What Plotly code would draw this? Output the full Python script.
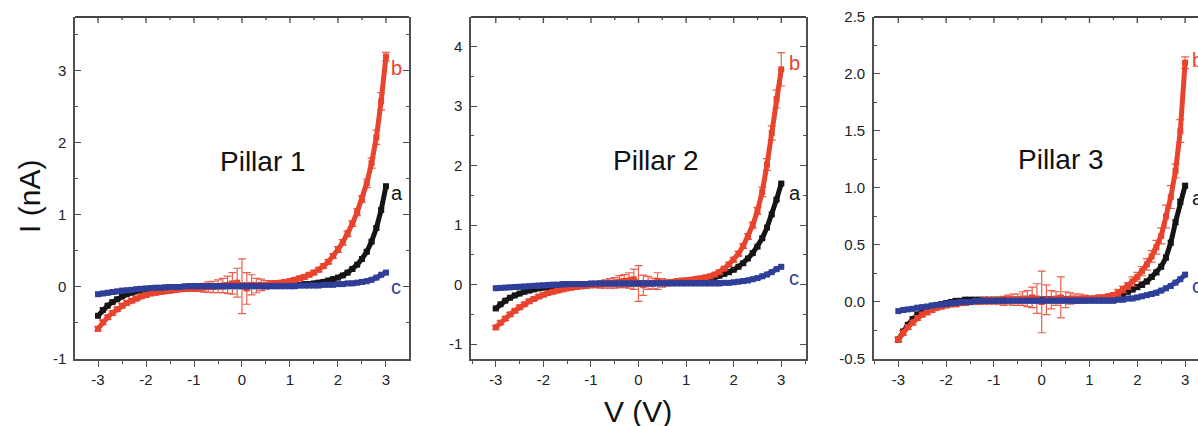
import plotly.graph_objects as go

# Bias sweep (V)
V = [-3.0, -2.9, -2.8, -2.7, -2.6, -2.5, -2.4, -2.3, -2.2, -2.1,
     -2.0, -1.9, -1.8, -1.7, -1.6, -1.5, -1.4, -1.3, -1.2, -1.1,
     -1.0, -0.9, -0.8, -0.7, -0.6, -0.5, -0.4, -0.3, -0.2, -0.1,
     0.0, 0.1, 0.2, 0.3, 0.4, 0.5, 0.6, 0.7, 0.8, 0.9,
     1.0, 1.1, 1.2, 1.3, 1.4, 1.5, 1.6, 1.7, 1.8, 1.9,
     2.0, 2.1, 2.2, 2.3, 2.4, 2.5, 2.6, 2.7, 2.8, 2.9, 3.0]

# ---- Pillar 1 currents (nA) ----
p1_a = [-0.40, -0.32, -0.26, -0.21, -0.17, -0.13, -0.10, -0.08, -0.06, -0.05,
        -0.04, -0.03, -0.02, -0.02, -0.01, -0.01, 0.00, 0.00, 0.00, 0.01,
        0.01, 0.01, 0.01, 0.01, 0.01, 0.01, 0.01, 0.02, 0.02, 0.02,
        0.02, 0.02, 0.02, 0.02, 0.02, 0.02, 0.02, 0.02, 0.02, 0.02,
        0.03, 0.03, 0.03, 0.04, 0.04, 0.05, 0.06, 0.07, 0.09, 0.11,
        0.13, 0.16, 0.20, 0.25, 0.31, 0.39, 0.49, 0.63, 0.82, 1.07, 1.40]
p1_b = [-0.58, -0.49, -0.42, -0.36, -0.31, -0.26, -0.22, -0.19, -0.16, -0.13,
        -0.11, -0.09, -0.08, -0.07, -0.06, -0.05, -0.04, -0.03, -0.03, -0.02,
        -0.02, -0.01, -0.01, 0.00, 0.00, 0.01, 0.02, 0.03, 0.05, 0.06,
        0.01, -0.02, 0.03, 0.02, 0.03, 0.03, 0.04, 0.05, 0.06, 0.07,
        0.08, 0.10, 0.12, 0.14, 0.17, 0.20, 0.24, 0.29, 0.35, 0.43,
        0.52, 0.62, 0.74, 0.88, 1.04, 1.22, 1.44, 1.72, 2.08, 2.58, 3.20]
p1_b_err = [0.03, 0.03, 0.03, 0.03, 0.03, 0.03, 0.03, 0.03, 0.03, 0.03,
            0.03, 0.03, 0.03, 0.03, 0.03, 0.03, 0.03, 0.03, 0.03, 0.04,
            0.04, 0.05, 0.06, 0.07, 0.08, 0.09, 0.10, 0.12, 0.15, 0.20,
            0.38, 0.22, 0.14, 0.10, 0.08, 0.06, 0.05, 0.04, 0.03, 0.03,
            0.03, 0.03, 0.03, 0.03, 0.03, 0.03, 0.03, 0.03, 0.03, 0.03,
            0.04, 0.04, 0.04, 0.04, 0.05, 0.05, 0.06, 0.07, 0.10, 0.12, 0.06]
p1_c = [-0.10, -0.09, -0.08, -0.07, -0.06, -0.05, -0.045, -0.04, -0.03, -0.025,
        -0.02, -0.015, -0.01, -0.01, -0.005, 0.00, 0.00, 0.00, 0.01, 0.01,
        0.01, 0.01, 0.01, 0.01, 0.01, 0.01, 0.01, 0.01, 0.01, 0.01,
        0.01, 0.01, 0.01, 0.01, 0.01, 0.01, 0.01, 0.01, 0.01, 0.01,
        0.01, 0.01, 0.02, 0.02, 0.02, 0.02, 0.02, 0.03, 0.03, 0.03,
        0.04, 0.04, 0.05, 0.05, 0.06, 0.07, 0.08, 0.10, 0.13, 0.17, 0.20]

# ---- Pillar 2 currents (nA) ----
p2_a = [-0.40, -0.33, -0.27, -0.22, -0.18, -0.15, -0.12, -0.10, -0.08, -0.06,
        -0.05, -0.04, -0.03, -0.02, -0.01, 0.00, 0.00, 0.01, 0.01, 0.01,
        0.01, 0.01, 0.02, 0.02, 0.02, 0.02, 0.02, 0.02, 0.02, 0.02,
        0.02, 0.02, 0.02, 0.02, 0.03, 0.03, 0.03, 0.04, 0.04, 0.05,
        0.06, 0.07, 0.08, 0.09, 0.10, 0.11, 0.13, 0.15, 0.18, 0.21,
        0.25, 0.30, 0.36, 0.44, 0.53, 0.64, 0.78, 0.96, 1.18, 1.43, 1.70]
p2_b = [-0.72, -0.64, -0.57, -0.50, -0.44, -0.38, -0.33, -0.28, -0.24, -0.20,
        -0.17, -0.14, -0.12, -0.10, -0.08, -0.06, -0.05, -0.04, -0.03, -0.02,
        -0.01, 0.00, 0.00, 0.01, 0.02, 0.03, 0.05, 0.06, 0.07, 0.09,
        0.02, -0.01, 0.03, 0.02, 0.06, 0.03, 0.03, 0.04, 0.06, 0.07,
        0.07, 0.08, 0.09, 0.10, 0.12, 0.14, 0.17, 0.21, 0.27, 0.34,
        0.42, 0.52, 0.65, 0.81, 1.00, 1.24, 1.56, 2.02, 2.55, 3.12, 3.62]
p2_b_err = [0.03, 0.03, 0.03, 0.03, 0.03, 0.03, 0.03, 0.03, 0.03, 0.03,
            0.03, 0.03, 0.03, 0.03, 0.03, 0.03, 0.03, 0.03, 0.03, 0.04,
            0.04, 0.05, 0.06, 0.07, 0.08, 0.09, 0.10, 0.11, 0.13, 0.17,
            0.30, 0.17, 0.11, 0.09, 0.14, 0.07, 0.05, 0.04, 0.03, 0.03,
            0.03, 0.03, 0.03, 0.03, 0.03, 0.03, 0.03, 0.03, 0.03, 0.03,
            0.04, 0.04, 0.04, 0.05, 0.05, 0.06, 0.08, 0.10, 0.12, 0.15, 0.28]
p2_c = [-0.06, -0.055, -0.05, -0.045, -0.04, -0.035, -0.03, -0.025, -0.02, -0.015,
        -0.01, -0.005, 0.00, 0.00, 0.01, 0.01, 0.01, 0.01, 0.01, 0.01,
        0.02, 0.02, 0.02, 0.02, 0.02, 0.02, 0.02, 0.02, 0.02, 0.02,
        0.02, 0.02, 0.02, 0.02, 0.02, 0.02, 0.02, 0.02, 0.02, 0.02,
        0.02, 0.02, 0.02, 0.02, 0.02, 0.02, 0.02, 0.02, 0.03, 0.03,
        0.04, 0.05, 0.06, 0.07, 0.09, 0.11, 0.14, 0.17, 0.21, 0.26, 0.30]

# ---- Pillar 3 currents (nA) ----
p3_a = [-0.33, -0.26, -0.20, -0.15, -0.11, -0.08, -0.06, -0.04, -0.03, -0.02,
        -0.01, 0.00, 0.01, 0.01, 0.02, 0.02, 0.02, 0.02, 0.02, 0.02,
        0.02, 0.02, 0.02, 0.02, 0.02, 0.02, 0.02, 0.02, 0.02, 0.02,
        0.02, 0.02, 0.02, 0.02, 0.02, 0.02, 0.02, 0.02, 0.02, 0.02,
        0.02, 0.02, 0.03, 0.03, 0.04, 0.05, 0.06, 0.07, 0.09, 0.11,
        0.13, 0.15, 0.18, 0.22, 0.26, 0.31, 0.39, 0.52, 0.70, 0.88, 1.02]
p3_b = [-0.33, -0.27, -0.22, -0.18, -0.14, -0.11, -0.09, -0.07, -0.05, -0.04,
        -0.03, -0.02, -0.02, -0.01, -0.01, 0.00, 0.00, 0.00, 0.01, 0.01,
        0.01, 0.01, 0.01, 0.02, 0.02, 0.02, 0.03, 0.03, 0.04, 0.03,
        0.00, 0.02, 0.02, 0.03, 0.04, 0.02, 0.03, 0.03, 0.03, 0.03,
        0.03, 0.03, 0.04, 0.04, 0.05, 0.06, 0.08, 0.11, 0.14, 0.18,
        0.22, 0.27, 0.33, 0.40, 0.48, 0.58, 0.75, 0.92, 1.15, 1.50, 2.10]
p3_b_err = [0.02, 0.02, 0.02, 0.02, 0.02, 0.02, 0.02, 0.02, 0.02, 0.02,
            0.02, 0.02, 0.02, 0.02, 0.02, 0.02, 0.02, 0.02, 0.03, 0.03,
            0.03, 0.03, 0.04, 0.04, 0.05, 0.05, 0.06, 0.07, 0.09, 0.13,
            0.27, 0.13, 0.08, 0.06, 0.18, 0.07, 0.05, 0.04, 0.04, 0.03,
            0.02, 0.02, 0.02, 0.02, 0.02, 0.02, 0.03, 0.03, 0.03, 0.04,
            0.04, 0.04, 0.05, 0.05, 0.06, 0.07, 0.10, 0.10, 0.06, 0.10, 0.05]
p3_c = [-0.08, -0.07, -0.065, -0.06, -0.05, -0.045, -0.04, -0.03, -0.025, -0.02,
        -0.015, -0.01, -0.005, 0.00, 0.00, 0.00, 0.01, 0.01, 0.01, 0.01,
        0.01, 0.01, 0.01, 0.01, 0.01, 0.01, 0.01, 0.01, 0.01, 0.01,
        0.01, 0.01, 0.01, 0.01, 0.01, 0.01, 0.01, 0.01, 0.01, 0.01,
        0.01, 0.01, 0.01, 0.01, 0.01, 0.01, 0.02, 0.02, 0.03, 0.03,
        0.04, 0.05, 0.06, 0.07, 0.08, 0.10, 0.12, 0.14, 0.17, 0.20, 0.24]

# Tick positions and labels
x_ticks = [-3, -2, -1, 0, 1, 2, 3]
x_minor_ticks = [-2.5, -1.5, -0.5, 0.5, 1.5, 2.5]
x_tick_labels = ["-3", "-2", "-1", "0", "1", "2", "3"]
p1_y_ticks = [-1, 0, 1, 2, 3]
p1_y_tick_labels = ["-1", "0", "1", "2", "3"]
p2_y_ticks = [-1, 0, 1, 2, 3, 4]
p2_y_tick_labels = ["-1", "0", "1", "2", "3", "4"]
p3_y_ticks = [-0.5, 0.0, 0.5, 1.0, 1.5, 2.0, 2.5]
p3_y_tick_labels = ["-0.5", "0.0", "0.5", "1.0", "1.5", "2.0", "2.5"]

panel_titles = ["Pillar 1", "Pillar 2", "Pillar 3"]
curve_labels = ["a", "b", "c"]

BLACK = "#151515"
RED = "#e8432d"
BLUE = "#2f3e98"
AXIS = "#505050"
TICKTXT = "#222222"
FONT = "Liberation Sans, Arial, sans-serif"

panels = [
    dict(a=p1_a, b=p1_b, be=p1_b_err, c=p1_c,
         xdom=[0.0626, 0.3414], xr=[-3.48, 3.48], yr=[-1.0, 3.75],
         yt=p1_y_ticks, ytl=p1_y_tick_labels, ymin=0.5, title_xy=(0.44, 1.74),
         lab_y=dict(a=1.30, b=3.04, c=0.0), lab_x=3.06, mirror_y=True),
    dict(a=p2_a, b=p2_b, be=p2_b_err, c=p2_c,
         xdom=[0.3932, 0.6728], xr=[-3.52, 3.52], yr=[-1.25, 4.5],
         yt=p2_y_ticks, ytl=p2_y_tick_labels, ymin=0.5, title_xy=(0.36, 2.09),
         lab_y=dict(a=1.54, b=3.72, c=0.12), lab_x=3.12, mirror_y=True),
    dict(a=p3_a, b=p3_b, be=p3_b_err, c=p3_c,
         xdom=[0.7295, 1.0], xr=[-3.51, 3.27], yr=[-0.5, 2.5],
         yt=p3_y_ticks, ytl=p3_y_tick_labels, ymin=0.25, title_xy=(0.41, 1.25),
         lab_y=dict(a=0.91, b=2.12, c=0.14), lab_x=3.11, mirror_y=False),
]

FIG_H = 426
YDOM = [0.1573, 0.9601]
TOP = YDOM[1]
MAJOR_LEN = 6 / FIG_H
MINOR_LEN = 3 / FIG_H

fig = go.Figure()
annotations = []
shapes = []


def to_paper_x(v, dom, rng):
    """Position of axis value v on the paper, for the top frame ticks."""
    return dom[0] + (v - rng[0]) / (rng[1] - rng[0]) * (dom[1] - dom[0])


for i, p in enumerate(panels):
    n = "" if i == 0 else str(i + 1)
    xa, ya = "x" + n, "y" + n

    fig.add_trace(go.Scatter(
        x=V, y=p["a"], xaxis=xa, yaxis=ya, mode="lines+markers",
        line=dict(color=BLACK, width=5), marker=dict(color=BLACK, size=6, symbol="square"),
        error_y=dict(type="constant", value=0.02, color=BLACK, thickness=1, width=3),
        showlegend=False, cliponaxis=False))
    fig.add_trace(go.Scatter(
        x=V, y=p["b"], xaxis=xa, yaxis=ya, mode="lines+markers",
        line=dict(color=RED, width=5), marker=dict(color=RED, size=6, symbol="square"),
        error_y=dict(type="data", array=p["be"], color="rgba(232,67,45,0.85)",
                     thickness=1.2, width=4),
        showlegend=False, cliponaxis=False))
    fig.add_trace(go.Scatter(
        x=V, y=p["c"], xaxis=xa, yaxis=ya, mode="lines+markers",
        line=dict(color=BLUE, width=5), marker=dict(color=BLUE, size=6, symbol="square"),
        showlegend=False, cliponaxis=False))

    fig.update_layout(**{
        "xaxis" + n: dict(domain=p["xdom"], range=p["xr"], anchor=ya, automargin=False,
                          tickmode="array", tickvals=x_ticks, ticktext=x_tick_labels,
                          showgrid=False, zeroline=False,
                          showline=True, mirror=False,
                          linecolor=AXIS, linewidth=1.5,
                          ticks="outside", ticklen=6, tickcolor=AXIS, tickwidth=1.2,
                          minor=dict(ticks="outside", tickmode="linear", tick0=0,
                                     dtick=0.5, ticklen=3, tickcolor=AXIS, tickwidth=1.2),
                          tickfont=dict(family=FONT, size=15, color=TICKTXT)),
        "yaxis" + n: dict(domain=YDOM, range=p["yr"], automargin=False,
                          tickmode="array", tickvals=p["yt"], ticktext=p["ytl"],
                          anchor=xa, showgrid=False, zeroline=False,
                          showline=True, mirror="allticks" if p["mirror_y"] else False,
                          linecolor=AXIS, linewidth=1.5,
                          ticks="inside", ticklen=6, tickcolor=AXIS, tickwidth=1.2,
                          minor=dict(ticks="inside", tickmode="linear", tick0=0,
                                     dtick=p["ymin"], ticklen=3,
                                     tickcolor=AXIS, tickwidth=1.2),
                          ticklabelstandoff=4,
                          tickfont=dict(family=FONT, size=15, color=TICKTXT)),
    })

    # top edge of the frame (paper coordinates), ticks pointing down into the frame
    shapes.append(dict(type="line", xref="paper", yref="paper", layer="above",
                       x0=p["xdom"][0], x1=p["xdom"][1], y0=TOP, y1=TOP,
                       line=dict(color="#444444", width=2.2)))
    for ticks, length in ((x_ticks, MAJOR_LEN), (x_minor_ticks, MINOR_LEN)):
        for t in ticks:
            xp = to_paper_x(t, p["xdom"], p["xr"])
            shapes.append(dict(type="line", xref="paper", yref="paper", layer="above",
                               x0=xp, x1=xp, y0=TOP, y1=TOP - length,
                               line=dict(color=AXIS, width=1.4)))

    tx, ty = p["title_xy"]
    annotations.append(dict(x=tx, y=ty, xref=xa, yref=ya, text=panel_titles[i],
                            showarrow=False, xanchor="center", yanchor="middle",
                            font=dict(family=FONT, size=28, color="#111111")))
    for lab, col in zip(curve_labels, [BLACK, RED, BLUE]):
        annotations.append(dict(x=p["lab_x"], y=p["lab_y"][lab], xref=xa, yref=ya,
                                text=lab, showarrow=False, xanchor="left", yanchor="middle",
                                font=dict(family=FONT, size=20, color=col)))

annotations.append(dict(x=0.025, y=0.54, xref="paper", yref="paper", text="I (nA)",
                        textangle=-90, showarrow=False, xanchor="center", yanchor="middle",
                        font=dict(family=FONT, size=30, color="#111111")))
annotations.append(dict(x=0.5326, y=0.0, xref="paper", yref="paper", text="V (V)",
                        showarrow=False, xanchor="center", yanchor="bottom", yshift=-4,
                        font=dict(family=FONT, size=30, color="#111111")))

fig.update_layout(width=1198, height=FIG_H, margin=dict(l=0, r=0, t=0, b=0),
                  paper_bgcolor="white", plot_bgcolor="white",
                  annotations=annotations, shapes=shapes)

fig.write_html("out.html")
